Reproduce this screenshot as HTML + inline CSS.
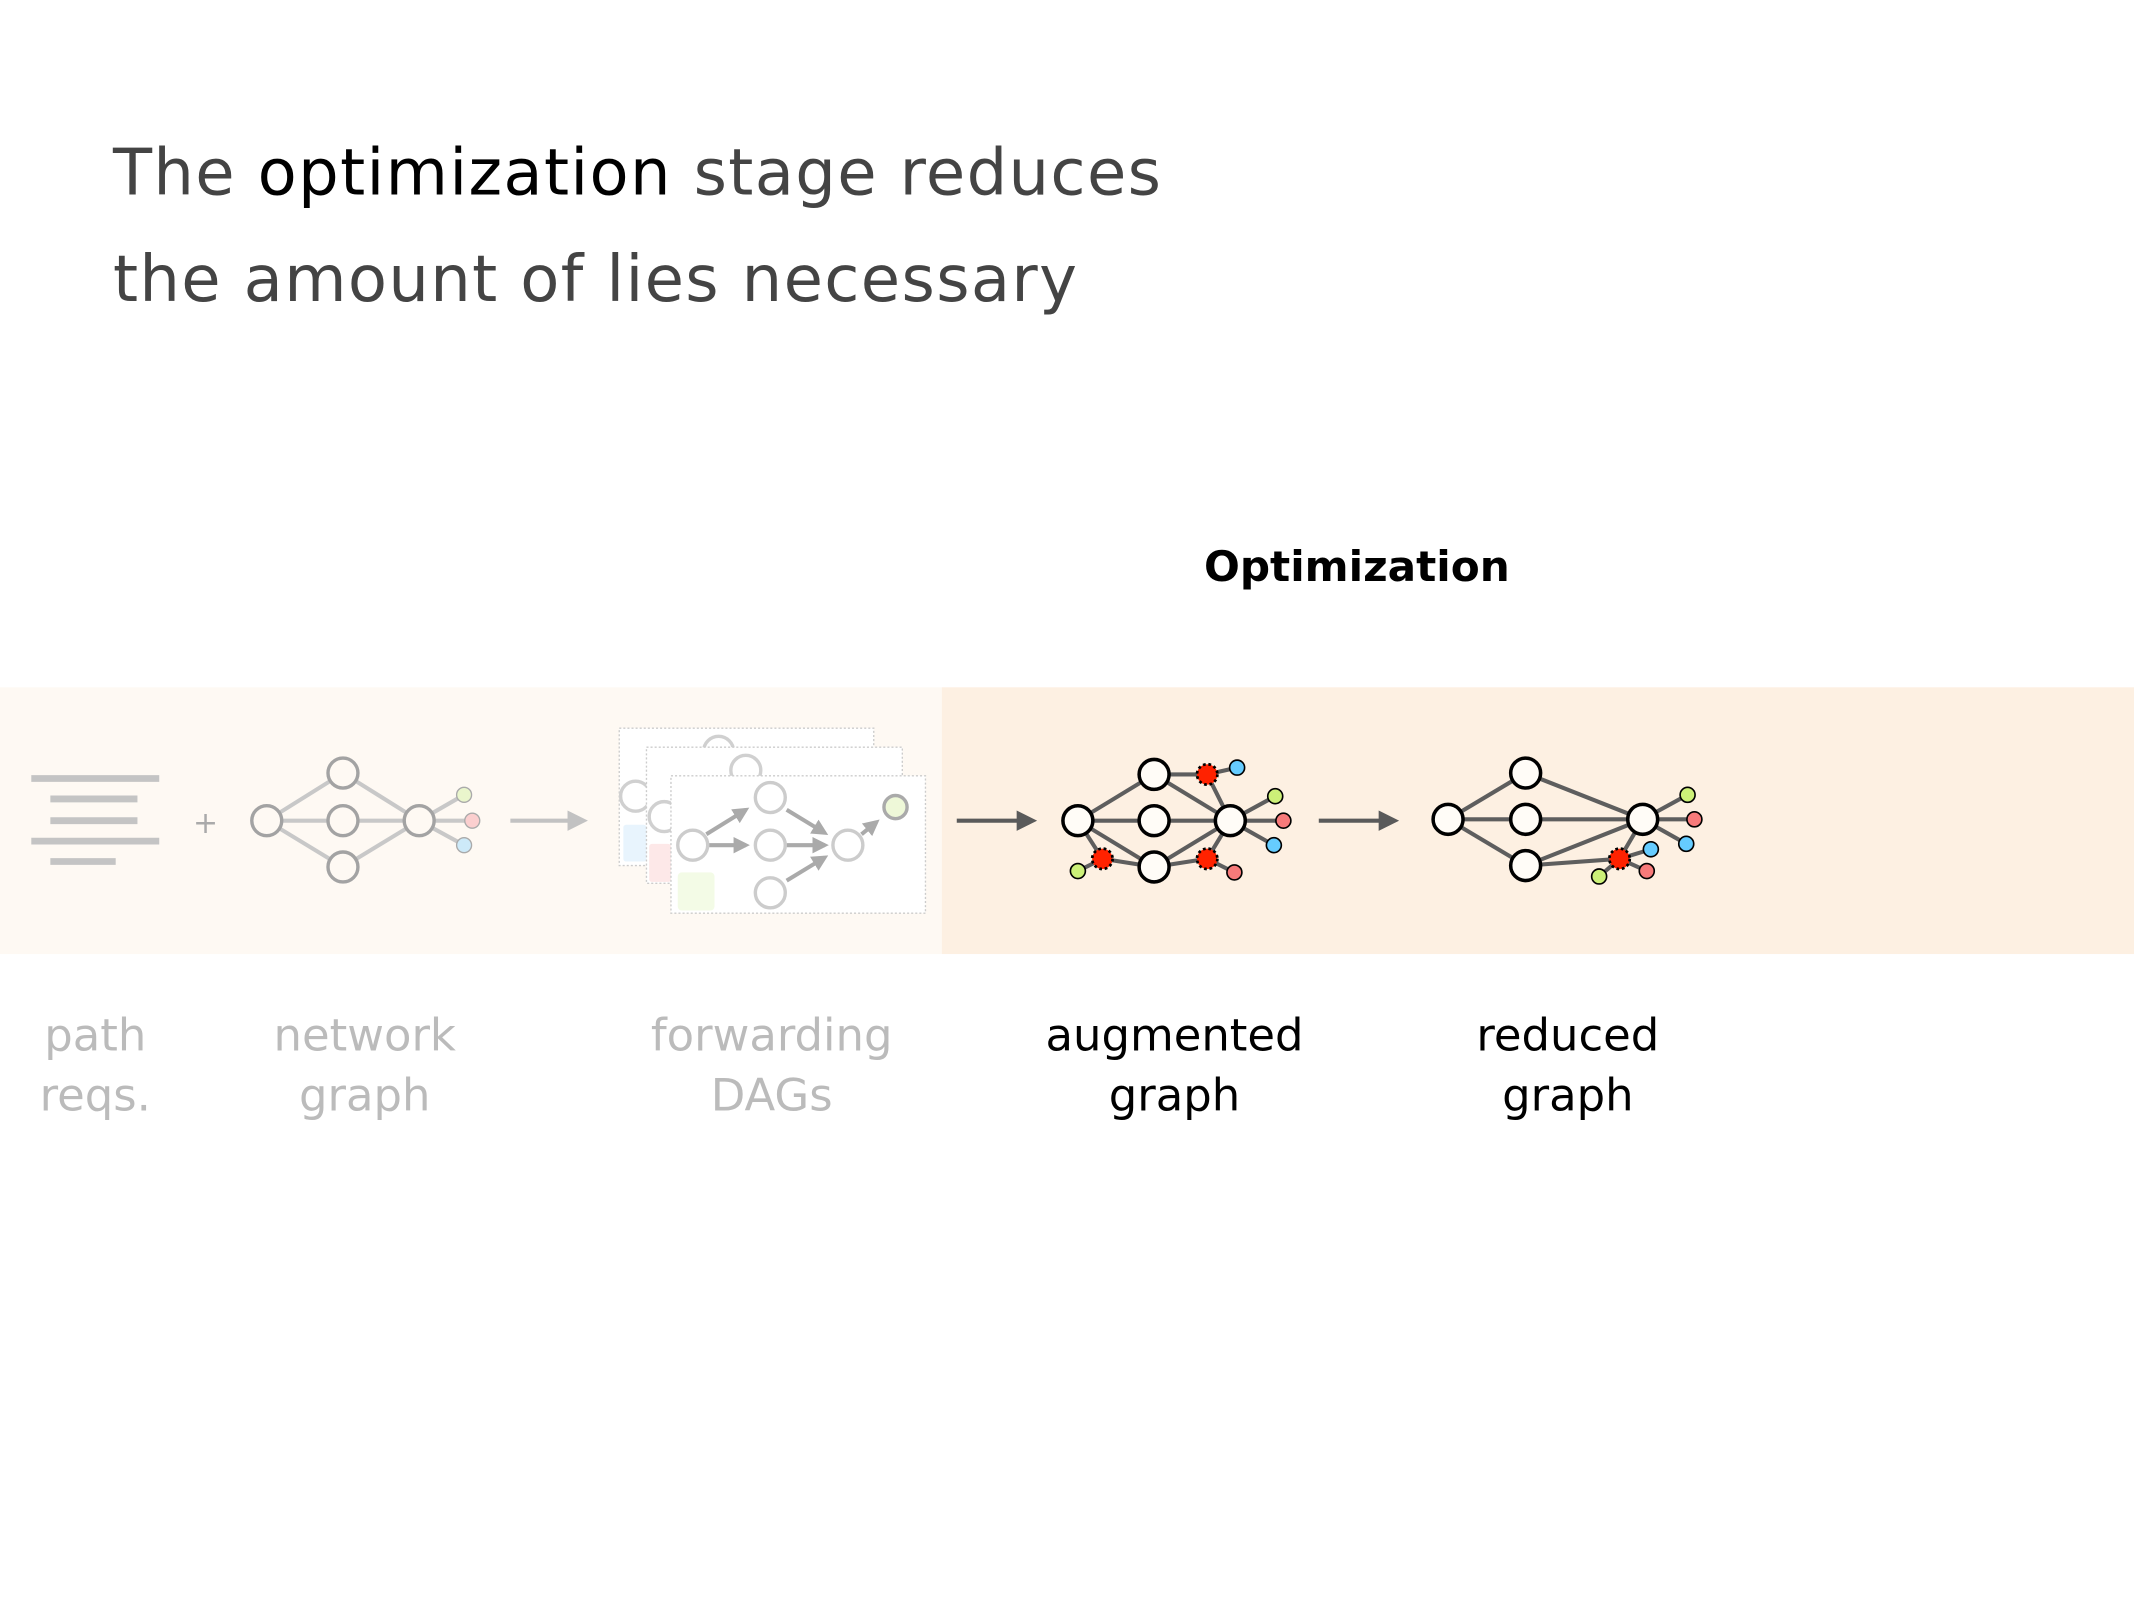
<!DOCTYPE html>
<html><head><meta charset="utf-8"><style>
html,body{margin:0;padding:0;background:#fff;width:2134px;height:1600px;overflow:hidden}
svg{display:block}
text{font-family:"DejaVu Sans","Liberation Sans",sans-serif}
</style></head><body>
<svg width="2134" height="1600" viewBox="0 0 1568 1175.6" xmlns="http://www.w3.org/2000/svg">
<defs>
<marker id="ag" markerWidth="5" markerHeight="5" refX="1" refY="2.5" orient="auto" markerUnits="strokeWidth"><path d="M0,0 L5,2.5 L0,5z" fill="#c2c2c2"/></marker>
<marker id="ad" markerWidth="5" markerHeight="5" refX="1" refY="2.5" orient="auto" markerUnits="strokeWidth"><path d="M0,0 L5,2.5 L0,5z" fill="#5a5a5a"/></marker>
<marker id="ac" markerWidth="4" markerHeight="4" refX="3" refY="2" orient="auto" markerUnits="strokeWidth"><path d="M0,0 L4,2 L0,4z" fill="#aaa"/></marker>
</defs>
<text x="83" y="143" font-size="47" fill="#444" letter-spacing="1">The <tspan fill="#000">optimization</tspan> stage reduces</text>
<text x="83" y="221" font-size="47" fill="#444" letter-spacing="1">the amount of lies necessary</text>
<text x="997" y="427" font-size="31" font-weight="bold" text-anchor="middle" fill="#000">Optimization</text>

<rect x="0" y="505" width="692" height="196" fill="#fef9f3"/>
<rect x="692" y="505" width="876" height="196" fill="#fdf0e2"/>

<g stroke="#c4c4c4" stroke-width="5">
<line x1="23" y1="572" x2="117" y2="572"/><line x1="37" y1="587" x2="101" y2="587"/>
<line x1="37" y1="603" x2="101" y2="603"/><line x1="23" y1="618" x2="117" y2="618"/>
<line x1="37" y1="633" x2="85" y2="633"/></g>
<text x="151" y="612" font-size="22" fill="#aaa" text-anchor="middle">+</text>

<g stroke="#c8c8c8" stroke-width="3">
<line x1="196" y1="603" x2="252" y2="568"/><line x1="196" y1="603" x2="252" y2="603"/><line x1="196" y1="603" x2="252" y2="637"/>
<line x1="252" y1="568" x2="308" y2="603"/><line x1="252" y1="603" x2="308" y2="603"/><line x1="252" y1="637" x2="308" y2="603"/>
<line x1="308" y1="603" x2="341" y2="584"/><line x1="308" y1="603" x2="347" y2="603"/><line x1="308" y1="603" x2="341" y2="621"/></g>
<g stroke="#a3a3a3" stroke-width="2.5" fill="#fef9f3">
<circle cx="196" cy="603" r="11"/><circle cx="252" cy="568" r="11"/><circle cx="252" cy="603" r="11"/><circle cx="252" cy="637" r="11"/><circle cx="308" cy="603" r="11"/></g>
<g stroke="#aaa" stroke-width="1">
<circle cx="341" cy="584" r="5.5" fill="#eaf6cc"/><circle cx="347" cy="603" r="5.5" fill="#fbcfcf"/><circle cx="341" cy="621" r="5.5" fill="#cdeaf9"/></g>
<line x1="375" y1="603" x2="420" y2="603" stroke="#c2c2c2" stroke-width="3" marker-end="url(#ag)"/>

<g stroke="#ccc" stroke-width="1" stroke-dasharray="1.5,1.5">
<rect x="455" y="535" width="187" height="101" fill="#fff"/>
</g>
<g fill="none" stroke="#d0d0d0" stroke-width="2.5"><circle cx="528" cy="552" r="11"/><circle cx="467" cy="585" r="11"/></g>
<rect x="458" y="606" width="17" height="27" rx="2" fill="#e8f4fd"/>
<rect x="475" y="549" width="188" height="100" fill="#fff" stroke="#ccc" stroke-dasharray="1.5,1.5"/>
<g fill="none" stroke="#d0d0d0" stroke-width="2.5"><circle cx="548" cy="566" r="11"/><circle cx="488" cy="600" r="11"/></g>
<rect x="477" y="620" width="16" height="28" rx="2" fill="#fde8e8"/>
<rect x="493" y="570" width="187" height="101" fill="#fff" stroke="#ccc" stroke-dasharray="1.5,1.5"/>
<rect x="498" y="641" width="27" height="28" rx="3" fill="#f3fbe6"/>
<g stroke="#aaa" stroke-width="3" marker-end="url(#ac)">
<line x1="519" y1="613" x2="548" y2="595"/><line x1="521" y1="621" x2="548" y2="621"/>
<line x1="578" y1="595" x2="606" y2="612"/><line x1="578" y1="621" x2="606" y2="621"/>
<line x1="578" y1="647" x2="606" y2="630"/><line x1="633" y1="613" x2="644" y2="604"/></g>
<g fill="#fff" stroke="#ccc" stroke-width="2.5">
<circle cx="509" cy="621" r="11"/><circle cx="566" cy="586" r="11"/><circle cx="566" cy="621" r="11"/><circle cx="566" cy="656" r="11"/><circle cx="623" cy="621" r="11"/></g>
<circle cx="658" cy="593" r="8.5" fill="#eef8d8" stroke="#aaa" stroke-width="2.5"/>

<line x1="703" y1="603" x2="750" y2="603" stroke="#5a5a5a" stroke-width="3" marker-end="url(#ad)"/>

<g stroke="#5e5e5e" stroke-width="3">
<line x1="792" y1="603" x2="848" y2="569"/><line x1="792" y1="603" x2="848" y2="603"/><line x1="792" y1="603" x2="848" y2="637"/>
<line x1="792" y1="603" x2="810" y2="631"/><line x1="810" y1="631" x2="848" y2="637"/><line x1="810" y1="631" x2="792" y2="640"/>
<line x1="848" y1="569" x2="887" y2="569"/><line x1="887" y1="569" x2="909" y2="564"/><line x1="887" y1="569" x2="904" y2="603"/>
<line x1="848" y1="569" x2="904" y2="603"/><line x1="848" y1="603" x2="904" y2="603"/><line x1="848" y1="637" x2="904" y2="603"/>
<line x1="848" y1="637" x2="887" y2="631"/><line x1="887" y1="631" x2="904" y2="603"/><line x1="887" y1="631" x2="907" y2="641"/>
<line x1="904" y1="603" x2="937" y2="585"/><line x1="904" y1="603" x2="943" y2="603"/><line x1="904" y1="603" x2="936" y2="621"/></g>
<g fill="#fffcf7" stroke="#000" stroke-width="2.6">
<circle cx="792" cy="603" r="11"/><circle cx="848" cy="569" r="11"/><circle cx="848" cy="603" r="11"/><circle cx="848" cy="637" r="11"/><circle cx="904" cy="603" r="11"/></g>
<g fill="#ff2200" stroke="#000" stroke-width="2" stroke-dasharray="2,2">
<circle cx="887" cy="569" r="7.5"/><circle cx="810" cy="631" r="7.5"/><circle cx="887" cy="631" r="7.5"/></g>
<g stroke="#000" stroke-width="1.2">
<circle cx="909" cy="564" r="5.5" fill="#66ccff"/><circle cx="937" cy="585" r="5.5" fill="#ccf078"/><circle cx="943" cy="603" r="5.5" fill="#f77a7a"/>
<circle cx="936" cy="621" r="5.5" fill="#66ccff"/><circle cx="792" cy="640" r="5.5" fill="#ccf078"/><circle cx="907" cy="641" r="5.5" fill="#f77a7a"/></g>

<line x1="969" y1="603" x2="1016" y2="603" stroke="#5a5a5a" stroke-width="3" marker-end="url(#ad)"/>

<g stroke="#5e5e5e" stroke-width="3">
<line x1="1064" y1="602" x2="1121" y2="568"/><line x1="1064" y1="602" x2="1121" y2="602"/><line x1="1064" y1="602" x2="1121" y2="636"/>
<line x1="1121" y1="568" x2="1207" y2="602"/><line x1="1121" y1="602" x2="1207" y2="602"/><line x1="1121" y1="636" x2="1207" y2="602"/>
<line x1="1121" y1="636" x2="1190" y2="631"/><line x1="1190" y1="631" x2="1207" y2="602"/>
<line x1="1190" y1="631" x2="1213" y2="624"/><line x1="1190" y1="631" x2="1210" y2="640"/><line x1="1190" y1="631" x2="1175" y2="644"/>
<line x1="1207" y1="602" x2="1240" y2="584"/><line x1="1207" y1="602" x2="1245" y2="602"/><line x1="1207" y1="602" x2="1239" y2="620"/></g>
<g fill="#fffcf7" stroke="#000" stroke-width="2.6">
<circle cx="1064" cy="602" r="11"/><circle cx="1121" cy="568" r="11"/><circle cx="1121" cy="602" r="11"/><circle cx="1121" cy="636" r="11"/><circle cx="1207" cy="602" r="11"/></g>
<circle cx="1190" cy="631" r="7.5" fill="#ff2200" stroke="#000" stroke-width="2" stroke-dasharray="2,2"/>
<g stroke="#000" stroke-width="1.2">
<circle cx="1240" cy="584" r="5.5" fill="#ccf078"/><circle cx="1245" cy="602" r="5.5" fill="#f77a7a"/><circle cx="1239" cy="620" r="5.5" fill="#66ccff"/>
<circle cx="1213" cy="624" r="5.5" fill="#66ccff"/><circle cx="1210" cy="640" r="5.5" fill="#f77a7a"/><circle cx="1175" cy="644" r="5.5" fill="#ccf078"/></g>

<g font-size="33" text-anchor="middle">
<text x="70" y="772" fill="#bbb">path</text><text x="70" y="816" fill="#bbb">reqs.</text>
<text x="268" y="772" fill="#bbb">network</text><text x="268" y="816" fill="#bbb">graph</text>
<text x="567" y="772" fill="#bbb">forwarding</text><text x="567" y="816" fill="#bbb">DAGs</text>
<text x="863" y="772" fill="#000">augmented</text><text x="863" y="816" fill="#000">graph</text>
<text x="1152" y="772" fill="#000">reduced</text><text x="1152" y="816" fill="#000">graph</text>
</g>
</svg>
</body></html>
